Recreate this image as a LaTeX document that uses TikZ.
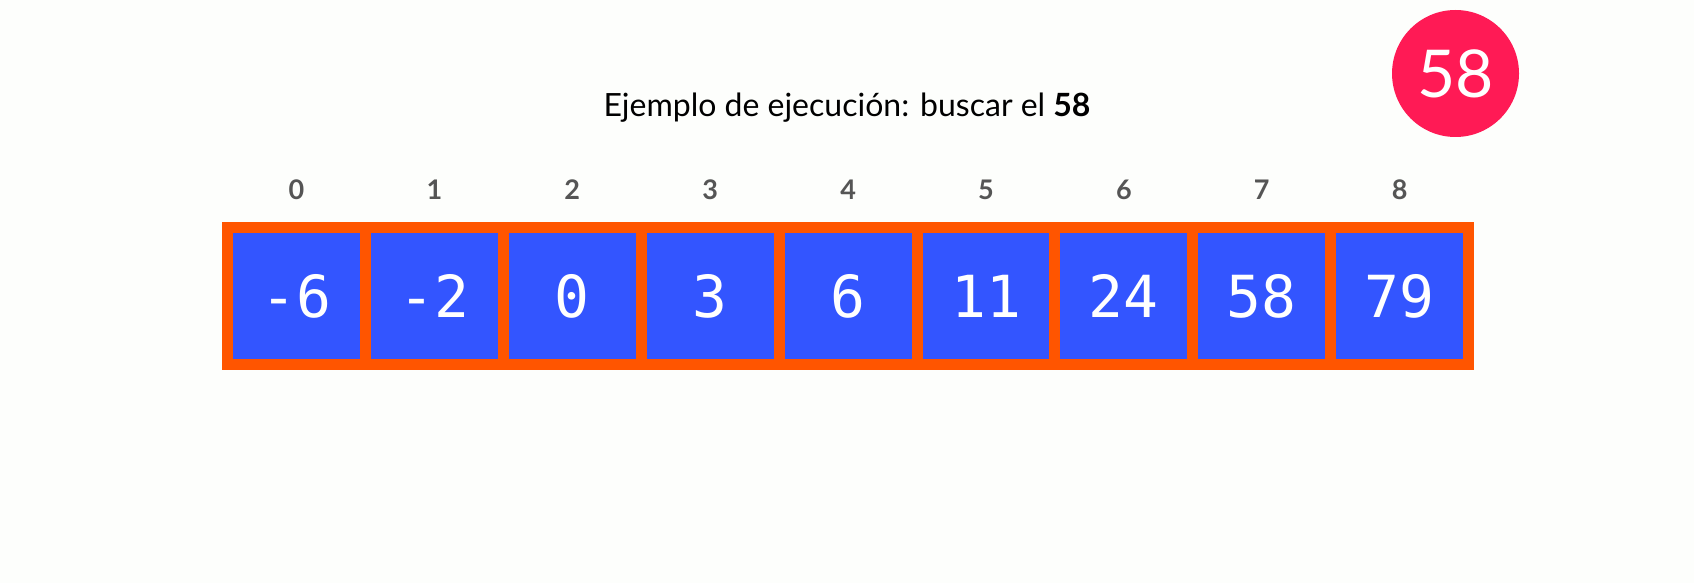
\documentclass[tikz,border=0pt]{standalone}
\usepackage{fontspec}
\setmainfont{Lato}
\setmonofont{DejaVu Sans Mono}
\definecolor{cellblue}{HTML}{3355FF}
\definecolor{cellorange}{HTML}{FF5500}
\definecolor{targetpink}{HTML}{FF1A55}
\definecolor{idxgray}{HTML}{555555}
\definecolor{paper}{HTML}{FDFEFC}
\tikzset{
  cell/.style={draw=cellorange,fill=cellblue,line width=11pt,minimum size=137.9pt,
    inner sep=0pt,text=white,font=\ttfamily\fontsize{58}{58}\selectfont},
  idx/.style={text=idxgray,font=\bfseries\fontsize{27}{27}\selectfont},
}
\begin{document}
\begin{tikzpicture}[x=1pt,y=-1pt]
\fill[paper] (0,0) rectangle (1694,583);
\useasboundingbox (0,0) rectangle (1694,583);
\node[anchor=base] (title) at (847,117) {\fontsize{32}{32}\selectfont Ejemplo de ejecución: buscar el \textbf{58}};
\node[circle,fill=targetpink,minimum size=127pt,inner sep=0pt,text=white,
  font=\fontsize{66}{66}\selectfont] (target) at (1455.5,73.5) {58};
\foreach \v [count=\i from 0] in {-6,-2,0,3,6,11,24,58,79} {
  \node[cell] (cell\i) at (296.5+137.9*\i,296) {\v};
  \node[idx] (idx\i) at (296.5+137.9*\i,190) {\i};
}
\end{tikzpicture}
\end{document}
